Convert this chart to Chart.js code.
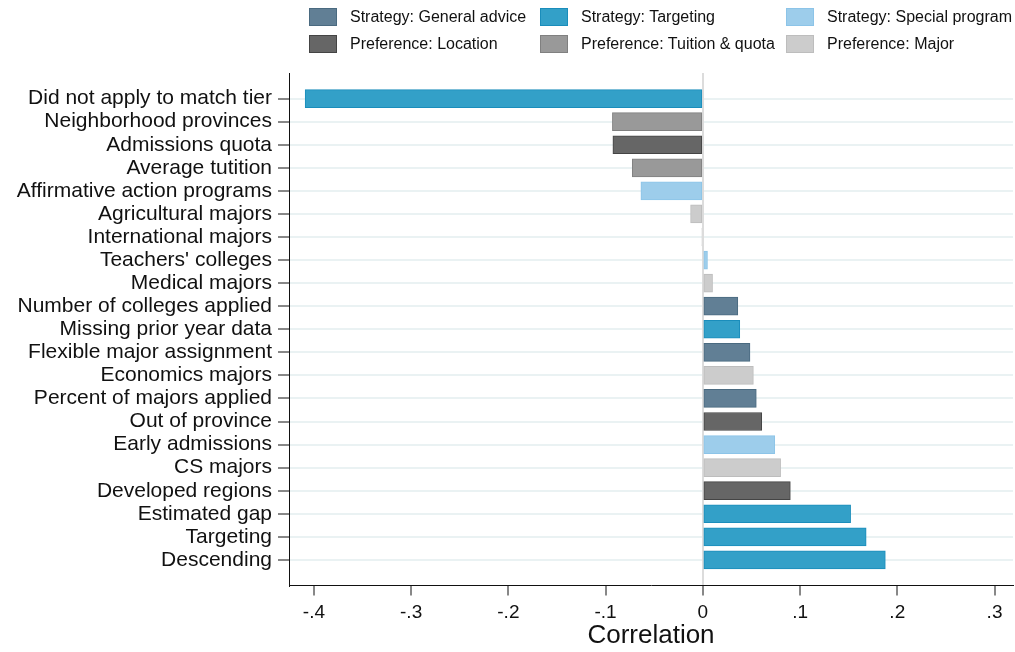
<!DOCTYPE html>
<html>
<head>
<meta charset="utf-8">
<script src="https://cdn.jsdelivr.net/npm/chart.js@4.4.1/dist/chart.umd.min.js"></script>
<style>
  body { margin: 0; background: #fff; }
  #wrap { position: relative; width: 1015px; height: 652px; }
  #legend { position: absolute; left: 0; top: 0; width: 1015px; height: 60px;
    font-family: "Liberation Sans", Arial, Helvetica, sans-serif; font-size: 16px; color: #111; }
  .item { position: absolute; height: 18px; line-height: 18px; white-space: nowrap; }
  .item span.sw { position: absolute; left: 0; top: 0; width: 26px; height: 16px; border: 1px solid; }
  .item span.tx { position: absolute; left: 41px; top: 0; }
</style>
</head>
<body>
<div id="wrap">
  <canvas id="chart" width="1015" height="652"></canvas>
  <div id="legend"></div>
</div>
<script>
// categories, top to bottom
const labels = [
  "Did not apply to match tier",
  "Neighborhood provinces",
  "Admissions quota",
  "Average tutition",
  "Affirmative action programs",
  "Agricultural majors",
  "International majors",
  "Teachers' colleges",
  "Medical majors",
  "Number of colleges applied",
  "Missing prior year data",
  "Flexible major assignment",
  "Economics majors",
  "Percent of majors applied",
  "Out of province",
  "Early admissions",
  "CS majors",
  "Developed regions",
  "Estimated gap",
  "Targeting",
  "Descending",
];

const values = [
  -0.409, -0.093, -0.0925, -0.0726, -0.0637, -0.0126, -0.001, 0.0048, 0.010,
  0.036, 0.038, 0.0485, 0.052, 0.055, 0.0606, 0.074, 0.080, 0.090, 0.152,
  0.168, 0.1877,
];

// group of each bar (index into groupNames)
const groups = [1, 4, 3, 4, 2, 5, 5, 2, 5, 0, 1, 0, 5, 0, 3, 2, 5, 3, 1, 1, 1];

const groupNames = [
  "Strategy: General advice",
  "Strategy: Targeting",
  "Strategy: Special program",
  "Preference: Location",
  "Preference: Tuition & quota",
  "Preference: Major",
];

const xTicks = [-0.4, -0.3, -0.2, -0.1, 0, 0.1, 0.2, 0.3];

// colours
const fills = ["#617f95", "#33a0c8", "#9dcdeb", "#666666", "#999999", "#cccccc"];
const borders = ["#4a6a80", "#1a8dbb", "#8cc4e8", "#444444", "#808080", "#bdbdbd"];

// legend, 3 columns x 2 rows
const legend = document.getElementById("legend");
const colX = [309, 540, 786];
const rowY = [8, 35];
groupNames.forEach((name, i) => {
  const el = document.createElement("div");
  el.className = "item";
  el.style.left = colX[i % 3] + "px";
  el.style.top = rowY[Math.floor(i / 3)] + "px";
  el.innerHTML =
    '<span class="sw" style="background:' + fills[i] + ";border-color:" + borders[i] +
    '"></span><span class="tx"></span>';
  el.querySelector(".tx").textContent = name;
  legend.appendChild(el);
});

const fmt = (v) => {
  if (Math.abs(v) < 1e-9) return "0";
  return (v < 0 ? "-" : "") + Math.abs(v).toFixed(1).replace(/^0/, "");
};

const font = "'Liberation Sans', Arial, Helvetica, sans-serif";

new Chart(document.getElementById("chart"), {
  type: "bar",
  data: {
    datasets: [
      {
        data: values.map((v, i) => ({ x: v, y: i })),
        backgroundColor: groups.map((g) => fills[g]),
        borderColor: groups.map((g) => borders[g]),
        borderWidth: 1,
        borderSkipped: false,
        barThickness: 18,
      },
    ],
  },
  options: {
    indexAxis: "y",
    responsive: false,
    animation: false,
    layout: { padding: { top: 73, right: 2, left: 0, bottom: 0 } },
    plugins: { legend: { display: false }, tooltip: { enabled: false } },
    scales: {
      y: {
        type: "linear",
        reverse: true,
        offset: false,
        min: -1.11,
        max: labels.length - 1 + 1.11,
        afterBuildTicks: (s) => {
          s.ticks = labels.map((_, i) => ({ value: i }));
        },
        afterFit: (s) => {
          s.width = 289;
        },
        ticks: {
          autoSkip: false,
          padding: 6,
          color: "#111",
          font: { family: font, size: 21 },
          callback: (v) => labels[v],
        },
        grid: {
          offset: false,
          color: "#eaf2f3",
          lineWidth: 2,
          tickColor: "#111",
          tickLength: 11,
          tickWidth: 1,
        },
        border: { display: true, color: "#111", width: 1 },
      },
      x: {
        type: "linear",
        min: -0.4256,
        max: 0.319,
        afterBuildTicks: (s) => {
          s.ticks = xTicks.map((v) => ({ value: v }));
        },
        afterFit: (s) => {
          s.height = 66.5;
        },
        ticks: {
          padding: 6,
          color: "#111",
          font: { family: font, size: 19 },
          callback: (v) => fmt(v),
        },
        grid: {
          color: (c) => (c.tick && Math.abs(c.tick.value) < 1e-9 ? "#dcdcdc" : "rgba(0,0,0,0)"),
          lineWidth: 2,
          tickColor: "#111",
          tickLength: 10,
          tickWidth: 1,
        },
        border: { display: true, color: "#111", width: 1 },
        title: {
          display: true,
          text: "Correlation",
          color: "#111",
          font: { family: font, size: 26 },
          padding: { top: 0, bottom: 1 },
        },
      },
    },
  },
});
</script>
</body>
</html>
